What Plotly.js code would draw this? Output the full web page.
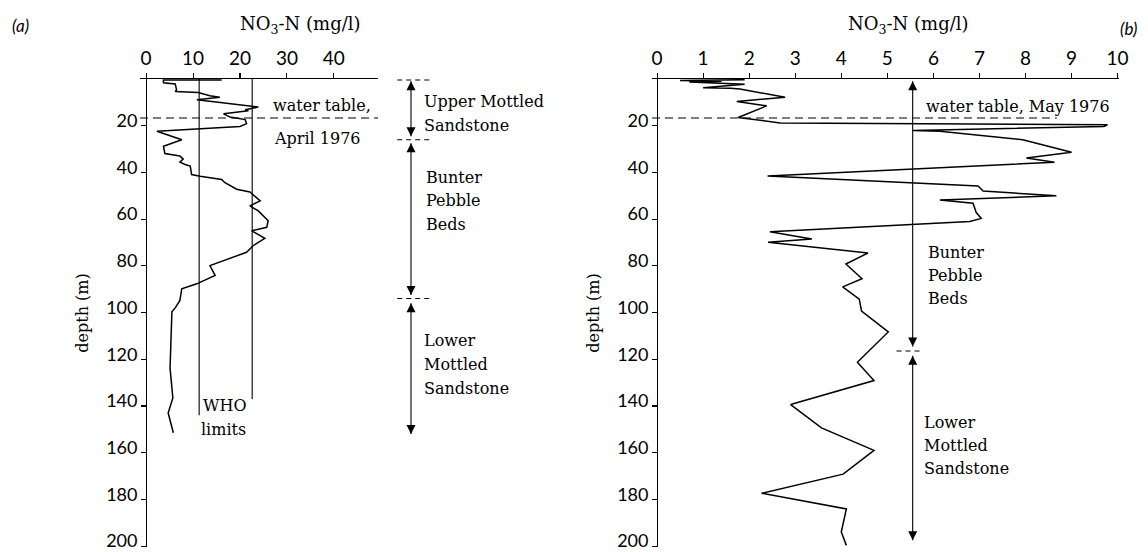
<!DOCTYPE html>
<html><head><meta charset="utf-8">
<script src="https://cdn.plot.ly/plotly-3.0.1.min.js"></script>
<style>html,body{margin:0;padding:0;background:#fff}#chart{width:1148px;height:552px}</style>
</head><body><div id="chart"></div>
<script>
// ---------- Panel (a): NO3-N profile, April 1976 ----------
const depthA = [0.4,0.4,1.6,2.1,4.7,5.4,5.8,7.2,7.8,8.9,9.6,12,13.2,13.6,14.9,16.3,17.4,19.1,20.3,22.4,26,28.8,31.9,33,34.3,35.6,36.6,37.3,40.9,41.6,43,44.4,47.2,48.4,52.2,54.3,56.5,60.7,63.5,65,68.2,71.4,74.2,79.9,84.1,87.7,89.8,94.8,98,99.7,123.8,136.6,143,151.5];
const no3A   = [16.1,3.7,3.7,6.2,6.5,6.2,11.1,13.6,15.7,10.8,14,23.9,21.1,21.8,16.5,17.9,21.1,21.4,20,2.3,7.6,3.7,4,7.2,7.9,7.2,8.3,9.4,9.7,11.5,16.1,16.8,19.3,22.1,24.3,22.1,23.9,26,25.7,22.5,25.3,22.8,21.4,13.6,14.7,10.8,7.6,7.2,6.2,5.5,5.1,5.7,4.7,5.8];
const whoLimits = [11.3, 22.6];        // mg/l NO3-N
const whoLineEnds = [144, 137];        // depth (m) where the drawn limit lines stop
const waterTableA = 16.7;              // m, April 1976
const boundariesA = [0.4, 26, 94];     // formation boundaries (m)
const arrowsA = [[1,24.5],[27.5,92.5],[96,152]];
const formationsA = [["Upper Mottled","Sandstone"],["Bunter","Pebble","Beds"],["Lower","Mottled","Sandstone"]];
const xTicksA = [0,10,20,30,40];

// ---------- Panel (b): NO3-N profile, May 1976 ----------
const depthB = [0.3,0.6,1.0,1.3,2.2,3.8,4.0,4.3,7.8,9.6,11.5,16.5,18.8,19.1,19.6,20.3,22,22.4,26,31.4,33.8,35.6,41.5,45.8,48,50,51.8,53.2,57.2,59.7,61,65.4,68.5,69.9,74.5,79.2,85.5,89,94.3,99.4,108.3,121.3,129.1,139.4,149.4,159,169.2,177.4,184.1,194,199.7];
const no3B   = [1.9,0.5,1.4,0.7,1.9,1.0,1.6,1.8,2.78,1.73,2.38,1.76,2.67,5.3,9.78,9.7,5.55,6.14,7.94,9.0,8.02,8.63,2.4,6.97,7.08,8.67,6.14,6.86,6.93,7.04,6.79,2.45,3.36,2.41,4.58,4.1,4.45,4.03,4.39,4.44,5.02,4.35,4.71,2.9,3.57,4.71,4.04,2.27,4.11,4.0,4.11];
const waterTableB = 16.7;              // m, May 1976
const waterTableBEnd = 8.68;           // mg/l where dashed line stops
const bracketXB = 5.55;                // x of formation bracket in (b)
const boundaryB = 116.5;
const arrowsB = [[1,114.5],[118.5,197.5]];
const formationsB = [["Bunter","Pebble","Beds"],["Lower","Mottled","Sandstone"]];
const xTicksB = [0,1,2,3,4,5,6,7,8,9,10];
const depthTicks = [20,40,60,80,100,120,140,160,180,200];

// ---------- layout helpers ----------
const W = 1148, H = 552;
const fx = p => p / W, fy = p => 1 - p / H;
const SERIF = 'DejaVu Serif', SANS = 'Lato';
const rangeA = [-1.3, 49.4], rangeB = [-0.11, 10.03];
const domA = [fx(140), fx(378)], domB = [fx(652), fx(1119)];
const domBracketA = [fx(381), fx(441)];   // strip right of panel (a) holding its formation bracket
const bracketXA = 0.5;
const domY = [fy(547), fy(79)];
const posAt0 = (dom, r) => dom[0] + (0 - r[0]) / (r[1] - r[0]) * (dom[1] - dom[0]);

const whoX = [], whoY = [];
whoLimits.forEach((v, i) => { whoX.push(v, v, null); whoY.push(0, whoLineEnds[i], null); });

function bracketTraces(bx, arrows, xa, ya) {
  const lx = [], ly = [], mx = [], my = [], sym = [];
  arrows.forEach(a => {
    lx.push(bx, bx, null); ly.push(a[0], a[1], null);
    mx.push(bx, bx); my.push(a[0], a[1]); sym.push('arrow-up', 'arrow-down');
  });
  return [
    {x: lx, y: ly, xaxis: xa, yaxis: ya, mode: 'lines', line: {color: 'black', width: 1.1}, hoverinfo: 'skip'},
    {x: mx, y: my, xaxis: xa, yaxis: ya, mode: 'markers', cliponaxis: false, hoverinfo: 'skip',
     marker: {symbol: sym, size: 9, color: 'black', line: {width: 0}}}
  ];
}

const traces = [
  {x: no3A, y: depthA, xaxis: 'x', yaxis: 'y', mode: 'lines', line: {color: 'black', width: 1.5}, hoverinfo: 'skip'},
  {x: whoX, y: whoY, xaxis: 'x', yaxis: 'y', mode: 'lines', line: {color: 'black', width: 1.1}, hoverinfo: 'skip'},
  {x: no3B, y: depthB, xaxis: 'x2', yaxis: 'y2', mode: 'lines', line: {color: 'black', width: 1.5}, hoverinfo: 'skip'}
].concat(bracketTraces(bracketXA, arrowsA, 'x3', 'y'), bracketTraces(bracketXB, arrowsB, 'x2', 'y2'));

function xax(dom, r, tv, anchor) {
  return {domain: dom, range: r, side: 'top', anchor: anchor, showline: true, linecolor: 'black', linewidth: 1.3,
    ticks: 'outside', ticklen: 5, tickwidth: 1.1, tickcolor: 'black', tickvals: tv, showgrid: false, zeroline: false,
    tickfont: {family: SANS, size: 19, color: 'black'}, fixedrange: true};
}
function yax(pos) {
  return {domain: domY, range: [200.4, 0], anchor: 'free', position: pos, showline: true,
    linecolor: 'black', linewidth: 1.3, ticks: 'outside', ticklen: 5, tickwidth: 1.1, tickcolor: 'black',
    tickvals: depthTicks, showgrid: false, zeroline: false, ticklabelshift: 5,
    tickfont: {family: SANS, size: 18, color: 'black'},
    title: {text: 'depth (m)', font: {family: SERIF, size: 16, color: 'black'}, standoff: 12}, fixedrange: true};
}

const shapes = [];
const dash = '8px,5px';
shapes.push({type: 'line', xref: 'x domain', yref: 'y', x0: 0, x1: 1, y0: waterTableA, y1: waterTableA,
  line: {color: 'black', width: 1.1, dash: dash}});
boundariesA.forEach(b => shapes.push({type: 'line', xref: 'x3', yref: 'y', x0: bracketXA - 0.23, x1: bracketXA + 0.32, y0: b, y1: b,
  line: {color: 'black', width: 1.1, dash: '5px,4px'}}));
shapes.push({type: 'line', xref: 'x2', yref: 'y2', x0: rangeB[0], x1: waterTableBEnd, y0: waterTableB, y1: waterTableB,
  line: {color: 'black', width: 1.1, dash: dash}});
shapes.push({type: 'line', xref: 'x2', yref: 'y2', x0: bracketXB - 0.35, x1: bracketXB + 0.2, y0: boundaryB, y1: boundaryB,
  line: {color: 'black', width: 1.1, dash: '5px,4px'}});

const annotations = [];
function txt(text, x, y, opts) {
  annotations.push(Object.assign({text: text, xref: 'paper', yref: 'paper', x: fx(x), y: fy(y), showarrow: false,
    xanchor: 'left', yanchor: 'middle', font: {family: SERIF, size: 16, color: 'black'}}, opts || {}));
}
function lines(arr, x, y0, step) { arr.forEach((t, i) => txt(t, x, y0 + i * step)); }

// panel (a) text
txt('<i>(a)</i>', 20, 26, {xanchor: 'center', font: {family: SANS, size: 17, color: 'black'}});
txt('NO<sub>3</sub>-N (mg/l)', 300, 25, {xanchor: 'center', font: {family: SERIF, size: 18, color: 'black'}});
txt('water table,', 271, 105);
txt('April 1976', 272, 138);
txt('WHO', 201, 405);
txt('limits', 199, 429);
lines(formationsA[0], 422, 102, 23);
lines(formationsA[1], 424, 177, 24);
lines(formationsA[2], 422, 340, 24);

// panel (b) text
txt('<i>(b)</i>', 1128, 28, {xanchor: 'center', font: {family: SANS, size: 17, color: 'black'}});
txt('NO<sub>3</sub>-N (mg/l)', 908, 25, {xanchor: 'center', font: {family: SERIF, size: 18, color: 'black'}});
txt('water table, May 1976', 924, 107);
lines(formationsB[0], 926, 252, 23);
lines(formationsB[1], 922, 422, 23);

const layout = {
  width: W, height: H, margin: {l: 0, r: 0, t: 0, b: 0}, paper_bgcolor: 'white', plot_bgcolor: 'rgba(0,0,0,0)',
  showlegend: false,
  xaxis: xax(domA, rangeA, xTicksA, 'y'),
  yaxis: yax(posAt0(domA, rangeA)),
  xaxis2: xax(domB, rangeB, xTicksB, 'y2'),
  yaxis2: yax(posAt0(domB, rangeB)),
  xaxis3: {domain: domBracketA, range: [0, 1], anchor: 'y', visible: false, fixedrange: true},
  shapes: shapes, annotations: annotations
};
Plotly.newPlot('chart', traces, layout, {displayModeBar: false, staticPlot: true});
</script></body></html>
